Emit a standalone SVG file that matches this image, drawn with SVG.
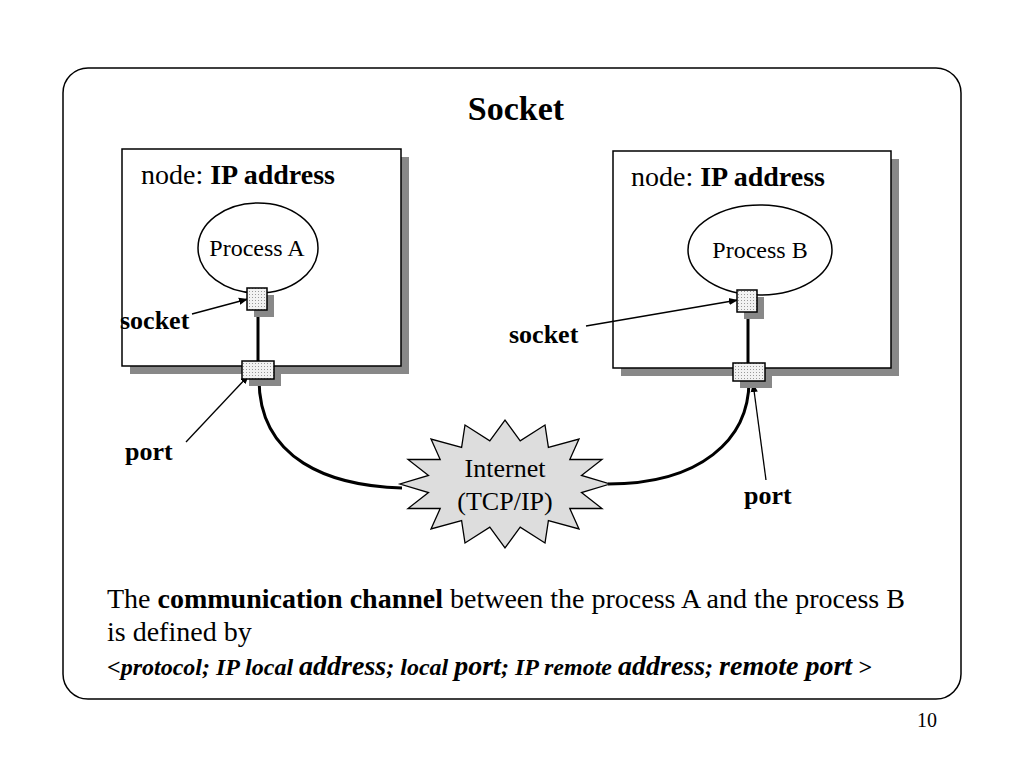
<svg xmlns="http://www.w3.org/2000/svg" width="1024" height="768" viewBox="0 0 1024 768" font-family="'Liberation Serif', Tinos, 'Times New Roman', 'DejaVu Serif', serif">
<defs>
<pattern id="dots" width="3" height="3" patternUnits="userSpaceOnUse"><rect width="3" height="3" fill="#f2f2f2"/><rect width="1" height="1" fill="#999"/></pattern>
<marker id="ah" viewBox="0 0 10 10" refX="10" refY="5" markerWidth="7" markerHeight="7" orient="auto"><path d="M0,1 L10,5 L0,9 z" fill="#000"/></marker>
</defs>
<style>
text{font-family:'Liberation Serif', Tinos, 'Times New Roman', 'DejaVu Serif', serif;fill:#000}
.b{font-weight:bold}
.box{fill:#fff;stroke:#000;stroke-width:1.5}
.sh{fill:#888}
.sq{fill:url(#dots);stroke:#000;stroke-width:1.5}
.ln{fill:none;stroke:#000;stroke-width:1.3}
.th{fill:none;stroke:#000;stroke-width:3}
</style>
<rect width="1024" height="768" fill="#fff"/>
<rect x="63" y="68" width="898" height="631" rx="25" fill="#fff" stroke="#000" stroke-width="1.5"/>
<text x="516" y="120" font-size="34" class="b" text-anchor="middle">Socket</text>
<g id="nodeA">
<rect x="130" y="157" width="279" height="217" class="sh"/>
<rect x="122" y="149" width="279" height="217" class="box"/>
<text x="141" y="184" font-size="28">node: <tspan class="b">IP address</tspan></text>
</g>
<g id="nodeB">
<rect x="621" y="159" width="278" height="217" class="sh"/>
<rect x="613" y="151" width="278" height="217" class="box"/>
<text x="631" y="186" font-size="28">node: <tspan class="b">IP address</tspan></text>
</g>
<g id="processA"><ellipse cx="258" cy="248" rx="60" ry="45" fill="#fff" stroke="#000" stroke-width="1.5"/><text x="257" y="256" font-size="24" text-anchor="middle">Process A</text></g>
<g id="processB"><ellipse cx="760" cy="250" rx="72" ry="45" fill="#fff" stroke="#000" stroke-width="1.5"/><text x="760" y="258" font-size="24" text-anchor="middle">Process B</text></g>
<g id="connectors">
<line x1="258" y1="310" x2="258" y2="361" class="th"/>
<line x1="748" y1="312" x2="748" y2="363" class="th"/>
<path d="M259,379 C259,460 330,486 402,488" class="th" stroke-width="2.5"/>
<path d="M608,484 C700,484 749,440 749,381" class="th" stroke-width="2.5"/>
<line x1="192" y1="314" x2="248" y2="299" class="ln" marker-end="url(#ah)"/>
<line x1="586" y1="326" x2="738" y2="300" class="ln" marker-end="url(#ah)"/>
<line x1="186" y1="442" x2="249" y2="375" class="ln" marker-end="url(#ah)"/>
<line x1="766" y1="480" x2="753" y2="383" class="ln" marker-end="url(#ah)"/>
</g>
<g id="socketA"><rect x="254" y="295" width="20" height="22" class="sh"/><rect x="247" y="288" width="20" height="22" class="sq"/></g>
<g id="portA"><rect x="249" y="368" width="32" height="18" class="sh"/><rect x="242" y="361" width="32" height="18" class="sq"/></g>
<g id="socketB"><rect x="744" y="297" width="20" height="22" class="sh"/><rect x="737" y="290" width="20" height="22" class="sq"/></g>
<g id="portB"><rect x="740" y="370" width="32" height="18" class="sh"/><rect x="733" y="363" width="32" height="18" class="sq"/></g>
<g id="internet">
<polygon points="610,484 581.5,492.6 602,508.5 569.8,508.5 579,529 548.4,520.6 545,543 520.2,527.2 505,548 489.8,527.2 465,543 461.6,520.6 431,529 440.2,508.5 408,508.5 428.5,492.6 400,484 428.5,475.4 408,459.5 440.2,459.5 431,439 461.6,447.4 465,425 489.8,440.8 505,420 520.2,440.8 545,425 548.4,447.4 579,439 569.8,459.5 602,459.5 581.5,475.4" fill="#ddd" stroke="#000" stroke-width="1.3"/>
<text x="505" y="477" font-size="26" text-anchor="middle">Internet</text>
<text x="505" y="510" font-size="26" text-anchor="middle">(TCP/IP)</text>
</g>
<text x="120" y="329" font-size="26" class="b">socket</text>
<text x="509" y="343" font-size="26" class="b">socket</text>
<text x="125" y="460" font-size="26" class="b">port</text>
<text x="744" y="504" font-size="26" class="b">port</text>
<text x="107" y="608" font-size="28">The <tspan class="b">communication channel</tspan> between the process A and the process B</text>
<text x="107" y="641" font-size="28">is defined by</text>
<text x="107" y="675" font-size="24" font-style="italic" class="b">&lt;protocol; IP local <tspan font-size="28">address</tspan>; local <tspan font-size="28">port</tspan>; IP remote <tspan font-size="28">address</tspan>; <tspan font-size="28">remote port</tspan> &gt;</text>
<text x="927" y="727" font-size="20" text-anchor="middle">10</text>
</svg>
